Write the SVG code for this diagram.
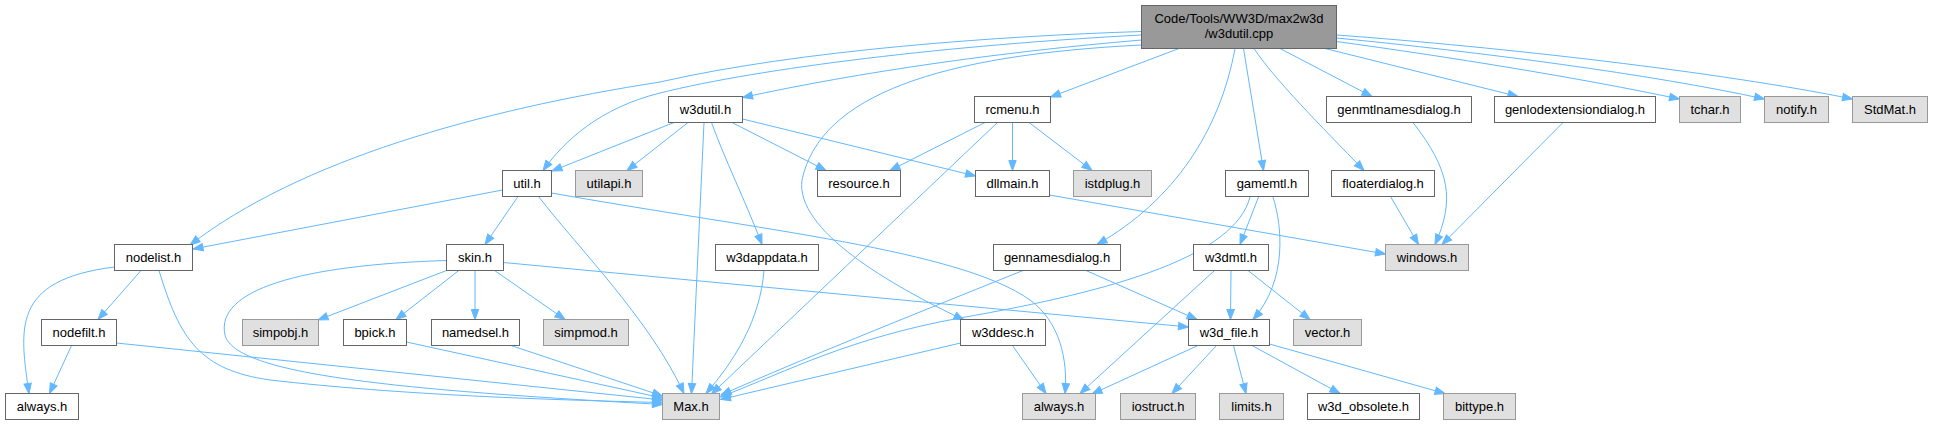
<svg xmlns="http://www.w3.org/2000/svg" width="1933" height="427" viewBox="0 0 1933 427">
<style>
.e{fill:none;stroke:#63b8ff;stroke-width:1;marker-end:url(#ah)}
.n rect{fill:#ffffff;stroke:#666666;stroke-width:1}
.g rect{fill:#e0e0e0;stroke:#999999;stroke-width:1}
.r rect{fill:#999999;stroke:#666666;stroke-width:1}
text{font-family:"Liberation Sans",Arial,sans-serif;font-size:13px;text-anchor:middle;fill:#000000}
</style>
<defs>
<marker id="ah" markerUnits="userSpaceOnUse" markerWidth="12" markerHeight="9" refX="10" refY="3.7" orient="auto" overflow="visible">
<path d="M0,0 L10,3.7 L0,7.4 z" fill="#63b8ff" stroke="#63b8ff" stroke-width="1"/>
</marker>
</defs>
<rect width="1933" height="427" fill="#ffffff"/>
<g id="edges">
<path class="e" d="M1141.5,31.5 C1000,36 800,50 660,82 C480,110 300,160 190,245"/>
<path class="e" d="M1141.5,35 C950,45 760,68 660,93 C600,108 565,140 543,170.5"/>
<path class="e" d="M1141.5,40 C1000,52 860,72 742.5,97.5"/>
<path class="e" d="M1179,48.5 L1050.5,97"/>
<path class="e" d="M1141.5,45 C940,55 820,95 802,180 C795,230 890,285 964,320"/>
<path class="e" d="M1235,48.5 C1220,130 1175,200 1097,244.5"/>
<path class="e" d="M1243.5,48.5 L1263.5,170.5"/>
<path class="e" d="M1254,48.5 C1275,80 1320,125 1364,170.5"/>
<path class="e" d="M1280,48.5 L1372,96.5"/>
<path class="e" d="M1325,48.5 L1518,96.5"/>
<path class="e" d="M1336.5,41.5 C1450,57 1580,78 1679.5,99"/>
<path class="e" d="M1336.5,38 C1480,52 1650,74 1764.5,99"/>
<path class="e" d="M1336.5,35 C1500,47 1720,72 1852.5,99"/>
<path class="e" d="M674,122.5 L552,171"/>
<path class="e" d="M688,122.5 L627,170.5"/>
<path class="e" d="M704,122.5 L691.5,393.5"/>
<path class="e" d="M711.5,122.5 C725,160 745,200 762,244.5"/>
<path class="e" d="M732,122.5 L826,170.5"/>
<path class="e" d="M742.5,119 L975.5,176"/>
<path class="e" d="M985,122.5 L890,170.5"/>
<path class="e" d="M1012.5,122.5 L1012.5,170.5"/>
<path class="e" d="M1029,122.5 L1092,170.5"/>
<path class="e" d="M997.5,122.5 L711.5,394"/>
<path class="e" d="M1023,270.5 C900,320 800,360 721,395"/>
<path class="e" d="M1250,197 C1235,255 1120,290 960,318 C850,338 790,370 720.5,397"/>
<path class="e" d="M1258.5,197 L1240,244.5"/>
<path class="e" d="M1273,197 C1282,225 1288,280 1253,319.5"/>
<path class="e" d="M1214.5,270.5 L1080,393.5"/>
<path class="e" d="M1231,270.5 L1230.5,319.5"/>
<path class="e" d="M1248,270.5 L1310,319.5"/>
<path class="e" d="M1086,270.5 L1197,319.5"/>
<path class="e" d="M960.5,343 L720.5,399.5"/>
<path class="e" d="M1012.5,345.5 L1046,393.5"/>
<path class="e" d="M1198,345.5 L1092,394"/>
<path class="e" d="M1216.5,345.5 L1172,393.5"/>
<path class="e" d="M1233.5,345.5 L1246,393.5"/>
<path class="e" d="M1252,345.5 L1340,393.5"/>
<path class="e" d="M1269.5,344 L1445,393.5"/>
<path class="e" d="M1049.5,195 L1385.5,254"/>
<path class="e" d="M1390.5,196.5 L1418.5,244.5"/>
<path class="e" d="M1413,122.5 C1450,170 1455,200 1435,244.5"/>
<path class="e" d="M1563,122.5 L1442,244.5"/>
<path class="e" d="M502.5,190 L193,249"/>
<path class="e" d="M518,196.5 L485,244.5"/>
<path class="e" d="M538.5,196.5 C580,250 650,320 684,393.5"/>
<path class="e" d="M551.5,193 C760,230 960,250 1030,300 C1060,322 1068,360 1065,393.5"/>
<path class="e" d="M503.5,262.5 L1188.5,327"/>
<path class="e" d="M446.5,260.5 C300,265 215,290 225,335 C235,375 400,390 662.5,404.5"/>
<path class="e" d="M446.5,270.5 L318,320"/>
<path class="e" d="M458.8,270.5 L396,319.5"/>
<path class="e" d="M475,270.5 L475,319.5"/>
<path class="e" d="M494.6,270.5 L565,319.5"/>
<path class="e" d="M114.5,267 C10,280 20,330 29,393.5"/>
<path class="e" d="M141,270.5 L98,319.5"/>
<path class="e" d="M159,270.5 C180,340 200,370 270,380 C400,395 550,400 662.5,402.5"/>
<path class="e" d="M71.5,345.5 L49.5,393.5"/>
<path class="e" d="M116.5,343 L662.5,400"/>
<path class="e" d="M406.5,342 L662.5,398"/>
<path class="e" d="M511,345.5 L662.5,396"/>
<path class="e" d="M764,270.5 C760,320 735,360 706,393.5"/>
</g>
<g id="node-root" class="r"><rect x="1141.5" y="5.5" width="195" height="43"/><text x="1239" y="22.5">Code/Tools/WW3D/max2w3d</text><text x="1239" y="38">/w3dutil.cpp</text></g>
<g id="node-w3dutil" class="n"><rect x="668.5" y="96.5" width="74" height="26"/><text x="705.5" y="113.5">w3dutil.h</text></g>
<g id="node-rcmenu" class="n"><rect x="974.5" y="96.5" width="76" height="26"/><text x="1012.5" y="113.5">rcmenu.h</text></g>
<g id="node-genmtlnamesdialog" class="n"><rect x="1326.5" y="96.5" width="145" height="26"/><text x="1399" y="113.5">genmtlnamesdialog.h</text></g>
<g id="node-genlodextensiondialog" class="n"><rect x="1494.5" y="96.5" width="161" height="26"/><text x="1575" y="113.5">genlodextensiondialog.h</text></g>
<g id="node-tchar" class="g"><rect x="1679.5" y="96.5" width="61" height="26"/><text x="1710" y="113.5">tchar.h</text></g>
<g id="node-notify" class="g"><rect x="1764.5" y="96.5" width="64" height="26"/><text x="1796.5" y="113.5">notify.h</text></g>
<g id="node-stdmat" class="g"><rect x="1852.5" y="96.5" width="75" height="26"/><text x="1890" y="113.5">StdMat.h</text></g>
<g id="node-util" class="n"><rect x="502.5" y="170.5" width="49" height="26"/><text x="527" y="187.5">util.h</text></g>
<g id="node-utilapi" class="g"><rect x="575.5" y="170.5" width="67" height="26"/><text x="609" y="187.5">utilapi.h</text></g>
<g id="node-resource" class="n"><rect x="817.5" y="170.5" width="83" height="26"/><text x="859" y="187.5">resource.h</text></g>
<g id="node-dllmain" class="n"><rect x="975.5" y="170.5" width="74" height="26"/><text x="1012.5" y="187.5">dllmain.h</text></g>
<g id="node-istdplug" class="g"><rect x="1073.5" y="170.5" width="78" height="26"/><text x="1112.5" y="187.5">istdplug.h</text></g>
<g id="node-gamemtl" class="n"><rect x="1225.5" y="170.5" width="83" height="26"/><text x="1267" y="187.5">gamemtl.h</text></g>
<g id="node-floaterdialog" class="n"><rect x="1331.5" y="170.5" width="103" height="26"/><text x="1383" y="187.5">floaterdialog.h</text></g>
<g id="node-nodelist" class="n"><rect x="114.5" y="244.5" width="78" height="26"/><text x="153.5" y="261.5">nodelist.h</text></g>
<g id="node-skin" class="n"><rect x="446.5" y="244.5" width="57" height="26"/><text x="475" y="261.5">skin.h</text></g>
<g id="node-w3dappdata" class="n"><rect x="715.5" y="244.5" width="103" height="26"/><text x="767" y="261.5">w3dappdata.h</text></g>
<g id="node-gennamesdialog" class="n"><rect x="993.5" y="244.5" width="127" height="26"/><text x="1057" y="261.5">gennamesdialog.h</text></g>
<g id="node-w3dmtl" class="n"><rect x="1193.5" y="244.5" width="75" height="26"/><text x="1231" y="261.5">w3dmtl.h</text></g>
<g id="node-windows" class="g"><rect x="1385.5" y="244.5" width="83" height="26"/><text x="1427" y="261.5">windows.h</text></g>
<g id="node-nodefilt" class="n"><rect x="41.5" y="319.5" width="75" height="26"/><text x="79" y="336.5">nodefilt.h</text></g>
<g id="node-simpobj" class="g"><rect x="242.5" y="319.5" width="76" height="26"/><text x="280.5" y="336.5">simpobj.h</text></g>
<g id="node-bpick" class="n"><rect x="343.5" y="319.5" width="63" height="26"/><text x="375" y="336.5">bpick.h</text></g>
<g id="node-namedsel" class="n"><rect x="431.5" y="319.5" width="88" height="26"/><text x="475.5" y="336.5">namedsel.h</text></g>
<g id="node-simpmod" class="g"><rect x="543.5" y="319.5" width="85" height="26"/><text x="586" y="336.5">simpmod.h</text></g>
<g id="node-w3ddesc" class="n"><rect x="960.5" y="319.5" width="85" height="26"/><text x="1003" y="336.5">w3ddesc.h</text></g>
<g id="node-w3d_file" class="n"><rect x="1188.5" y="319.5" width="81" height="26"/><text x="1229" y="336.5">w3d_file.h</text></g>
<g id="node-vector" class="g"><rect x="1293.5" y="319.5" width="68" height="26"/><text x="1327.5" y="336.5">vector.h</text></g>
<g id="node-always1" class="n"><rect x="5.5" y="393.5" width="73" height="26"/><text x="42" y="410.5">always.h</text></g>
<g id="node-max" class="g"><rect x="662.5" y="393.5" width="57" height="26"/><text x="691" y="410.5">Max.h</text></g>
<g id="node-always2" class="g"><rect x="1022.5" y="393.5" width="73" height="26"/><text x="1059" y="410.5">always.h</text></g>
<g id="node-iostruct" class="g"><rect x="1120.5" y="393.5" width="75" height="26"/><text x="1158" y="410.5">iostruct.h</text></g>
<g id="node-limits" class="g"><rect x="1219.5" y="393.5" width="64" height="26"/><text x="1251.5" y="410.5">limits.h</text></g>
<g id="node-w3d_obsolete" class="n"><rect x="1307.5" y="393.5" width="112" height="26"/><text x="1363.5" y="410.5">w3d_obsolete.h</text></g>
<g id="node-bittype" class="g"><rect x="1443.5" y="393.5" width="72" height="26"/><text x="1479.5" y="410.5">bittype.h</text></g>
</svg>
